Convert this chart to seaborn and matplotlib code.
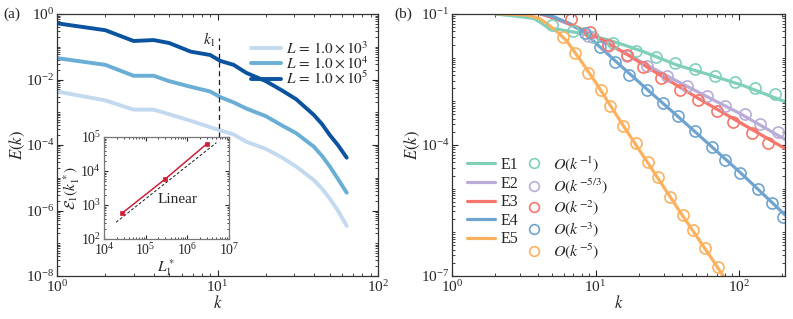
import numpy as np
import pandas as pd
import matplotlib
matplotlib.use("Agg")
import matplotlib.pyplot as plt
import seaborn as sns
from matplotlib.ticker import LogLocator, NullFormatter
from matplotlib.lines import Line2D

# ---- panel (a): spectra for three L ----
k_a = [1, 2, 3, 4, 5, 6.8, 9.0, 10.4, 12.6, 15.1, 20.0, 25.1, 30.9, 39.8, 44.7, 50.1, 56.2, 63.8]
E_L3 = [4.3e-3, 2.3e-3, 1.2e-3, 1.2e-3, 8.7e-4, 5.5e-4, 3.5e-4, 2.8e-4, 2.1e-4, 1.26e-4,
        7.6e-5, 4.2e-5, 2.2e-5, 8.5e-6, 4.7e-6, 2.3e-6, 1.0e-6, 3.4e-7]
E_L4 = [0.045, 0.028, 0.013, 0.013, 8.9e-3, 6.0e-3, 4.3e-3, 2.9e-3, 2.0e-3, 1.3e-3,
        7.6e-4, 4.0e-4, 2.3e-4, 8.9e-5, 4.7e-5, 2.2e-5, 9.3e-6, 3.5e-6]
E_L5 = [0.52, 0.32, 0.15, 0.16, 0.13, 0.071, 0.056, 0.037, 0.028, 0.016,
        8.9e-3, 4.7e-3, 2.5e-3, 8.3e-4, 4.4e-4, 2.0e-4, 1.0e-4, 4.1e-5]
labels_a = [r"$L\,=\,1.0\times10^3$", r"$L\,=\,1.0\times10^4$", r"$L\,=\,1.0\times10^5$"]
colors_a = ["#c2d9ef", "#6aaed6", "#0b539f"]
k1 = 10.2

# inset
L1_star = [2.7e4, 2.9e5, 2.9e6]
E1_star = [5.7e2, 5.7e3, 6.2e4]
lin_x = [1.95e4, 5.0e6]
lin_y = [3.1e2, 6.8e4]

# ---- panel (b): E1..E5 and power-law markers ----
k_E1 = [2.0, 2.82, 3.72, 4.17, 4.68, 5.62, 7.94, 12.0, 15.8, 21.5, 36.8, 63.1, 107, 209]
E_E1 = [0.1, 0.089, 0.079, 0.063, 0.048, 0.044, 0.036, 0.026, 0.0195, 0.0138, 6.8e-3, 4.0e-3, 2.3e-3, 9.8e-4]
k_E2 = [3.98, 5.01, 7.08, 10, 15.8, 31.6, 63.1, 100, 209]
E_E2 = [0.105, 0.083, 0.052, 0.0295, 0.0132, 3.8e-3, 1.17e-3, 5.4e-4, 1.35e-4]
k_E3 = [3.98, 5.01, 6.61, 10, 16.5, 28.8, 52.0, 91.2, 158, 209]
E_E3 = [0.105, 0.083, 0.060, 0.0316, 0.012, 3.8e-3, 1.17e-3, 4.0e-4, 1.41e-4, 8.3e-5]
k_E4 = [3.98, 5.01, 6.61, 8.51, 10.7, 13.7, 22.8, 37.8, 64.6, 102, 170, 209]
E_E4 = [0.105, 0.089, 0.060, 0.036, 0.0178, 8.5e-3, 1.9e-3, 4.4e-4, 9.1e-5, 2.34e-5, 4.8e-6, 2.5e-6]
k_E5 = [2.0, 3.31, 4.07, 4.79, 5.62, 6.31, 7.94, 10, 15.8, 25.1, 39.8, 63.1, 79.4]
E_E5 = [0.102, 0.095, 0.079, 0.054, 0.035, 0.024, 8.3e-3, 2.75e-3, 2.6e-4, 2.6e-5, 2.6e-6, 2.8e-7, 8.9e-8]

kc_1 = [5.01, 6.92, 9.55, 13.2, 19.1, 26.3, 35.9, 49.0, 67.6, 93.3, 129, 178]
Ec_1 = [0.056, 0.041, 0.0295, 0.0214, 0.0145, 0.0105, 7.4e-3, 5.5e-3, 3.9e-3, 2.8e-3, 2.0e-3, 1.5e-3]
kc_2 = [8.91, 12.2, 16.6, 22.8, 31.3, 43.3, 59.6, 79.4, 110, 140, 186]
Ec_2 = [0.031, 0.0182, 0.011, 6.3e-3, 3.8e-3, 2.2e-3, 1.35e-3, 7.9e-4, 5.2e-4, 3.1e-4, 1.95e-4]
kc_3 = [6.76, 9.12, 12.3, 16.5, 21.5, 28.8, 38.9, 52.0, 70.0, 91.2, 123, 158]
Ec_3 = [0.0759, 0.038, 0.020, 0.0115, 6.2e-3, 3.4e-3, 1.82e-3, 1.07e-3, 6.0e-4, 3.4e-4, 1.9e-4, 1.1e-4]
kc_4 = [8.51, 10.7, 13.7, 17.0, 22.8, 29.7, 37.8, 49.0, 64.6, 79.4, 102, 135, 170, 204]
Ec_4 = [0.0372, 0.0178, 8.1e-3, 3.98e-3, 1.82e-3, 9.0e-4, 4.5e-4, 2.04e-4, 9.1e-5, 4.6e-5, 2.34e-5, 9.8e-6, 4.8e-6, 2.3e-6]
kc_5 = [5.97, 7.16, 8.91, 10.9, 12.7, 15.6, 19.2, 23.3, 27.4, 33.0, 40.7, 47.9, 57.9, 71.8]
Ec_5 = [0.0302, 0.0126, 4.57e-3, 1.82e-3, 7.9e-4, 2.75e-4, 1.10e-4, 4.17e-5, 1.82e-5, 6.6e-6, 2.5e-6, 1.12e-6, 4.3e-7, 1.62e-7]

names_b = ["E1", "E2", "E3", "E4", "E5"]
laws_b = [r"$O(k^{-1})$", r"$O(k^{-5/3})$", r"$O(k^{-2})$", r"$O(k^{-3})$", r"$O(k^{-5})$"]
colors_b = ["#80d0b9", "#b9acd9", "#f6766b", "#6fa4d0", "#fdb15f"]

sns.set_theme(style="ticks")
plt.rcParams["font.family"] = ["Liberation Serif", "DejaVu Serif"]
plt.rcParams["mathtext.fontset"] = "stix"
plt.rcParams["axes.edgecolor"] = "#333333"
plt.rcParams["axes.linewidth"] = 0.9


def style_log_axis(ax, yticks, fs=11):
    ax.set_xscale("log")
    ax.set_yscale("log")
    ax.set_yticks(yticks)
    ax.yaxis.set_minor_locator(LogLocator(base=10, subs=np.arange(1, 10), numticks=100))
    ax.xaxis.set_minor_locator(LogLocator(base=10, subs=np.arange(2, 10), numticks=100))
    ax.yaxis.set_minor_formatter(NullFormatter())
    ax.xaxis.set_minor_formatter(NullFormatter())
    ax.tick_params(which="both", direction="in", top=True, right=True, labelsize=fs, pad=2)
    ax.tick_params(which="major", length=4, width=0.8)
    ax.tick_params(which="minor", length=2, width=0.6)


fig = plt.figure(figsize=(7.93, 3.19), dpi=100)
ax_a = fig.add_axes([0.0719, 0.1348, 0.4048, 0.8213])
ax_b = fig.add_axes([0.5700, 0.1348, 0.4199, 0.8213])

# ---- (a)
ax_a.set_xscale("log")
ax_a.set_yscale("log")
for E, c, lab in zip([E_L3, E_L4, E_L5], colors_a, labels_a):
    sns.lineplot(x=k_a, y=E, ax=ax_a, color=c, lw=2.8, label=lab, estimator=None, sort=False)
ax_a.vlines(k1, 1.7e-4, 0.19, colors="k", linestyles=(0, (4, 3)), lw=0.9)
ax_a.text(8.85, 0.16, r"$k_1$", ha="center", va="center", fontsize=11)
ax_a.set_xlim(1, 100)
ax_a.set_ylim(1e-8, 1)
style_log_axis(ax_a, [1e-8, 1e-6, 1e-4, 1e-2, 1e0])
ax_a.set_xticks([1, 10, 100])
ax_a.set_xlabel(r"$k$", fontsize=12, labelpad=0)
ax_a.set_ylabel(r"$E(k)$", fontsize=12, labelpad=-1)
ax_a.legend(loc="upper right", bbox_to_anchor=(1.0, 0.935), frameon=False, fontsize=11,
            handlelength=2.0, handletextpad=0.3, labelspacing=-0.1, borderaxespad=0.2)

# inset
ax_in = fig.add_axes([0.1311, 0.2508, 0.1576, 0.3197])
ax_in.set_xscale("log")
ax_in.set_yscale("log")
sns.lineplot(x=lin_x, y=lin_y, ax=ax_in, color="k", lw=0.7, ls=(0, (3, 2)), estimator=None)
sns.lineplot(x=L1_star, y=E1_star, ax=ax_in, color="#cc1f3a", lw=1.1, marker="s", ms=3.5,
             mec="#cc1f3a", mew=0.5, estimator=None)
ax_in.text(5.9e5, 1.5e3, "Linear", ha="center", va="center", fontsize=11)
ax_in.set_xlim(1e4, 1e7)
ax_in.set_ylim(1e2, 1e5)
style_log_axis(ax_in, [1e2, 1e3, 1e4, 1e5], fs=10)
ax_in.set_xticks([1e4, 1e5, 1e6, 1e7])
ax_in.tick_params(which="major", length=3)
ax_in.tick_params(which="minor", length=1.5)
for s in ax_in.spines.values():
    s.set_color("#777777")
ax_in.set_xlabel(r"$L_1^*$", fontsize=11, labelpad=0)
ax_in.set_ylabel(r"$\mathcal{E}_1(k_1^*)$", fontsize=11, labelpad=-1)

# ---- (b)
ax_b.set_xscale("log")
ax_b.set_yscale("log")
lines_k = [k_E1, k_E2, k_E3, k_E4, k_E5]
lines_E = [E_E1, E_E2, E_E3, E_E4, E_E5]
circ_k = [kc_1, kc_2, kc_3, kc_4, kc_5]
circ_E = [Ec_1, Ec_2, Ec_3, Ec_4, Ec_5]
for kk, EE, c in zip(lines_k, lines_E, colors_b):
    sns.lineplot(x=kk, y=EE, ax=ax_b, color=c, lw=2.3, estimator=None, sort=False)
for kk, EE, c in zip(circ_k, circ_E, colors_b):
    sns.lineplot(x=kk, y=EE, ax=ax_b, color=c, ls="", marker="o", ms=8, mfc="none",
                 mec=c, mew=1.2, estimator=None, sort=False)
ax_b.set_xlim(1, 209)
ax_b.set_ylim(1e-7, 1e-1)
style_log_axis(ax_b, [1e-7, 1e-4, 1e-1])
ax_b.set_xticks([1, 10, 100])
ax_b.set_xlabel(r"$k$", fontsize=12, labelpad=0)
ax_b.set_ylabel(r"$E(k)$", fontsize=12, labelpad=-1)

handles = [Line2D([], [], color=c, lw=2.3) for c in colors_b]
handles += [Line2D([], [], color=c, ls="", marker="o", ms=7, mfc="none", mec=c, mew=1.2)
            for c in colors_b]
ax_b.legend(handles, names_b + laws_b, ncol=2, loc="upper left", bbox_to_anchor=(0.025, 0.49),
            frameon=False, fontsize=11.5, handlelength=1.8, handletextpad=0.3,
            labelspacing=0.16, columnspacing=0.1, borderaxespad=0.0)

fig.text(0.004, 0.955, "(a)", fontsize=11, va="center")
fig.text(0.497, 0.955, "(b)", fontsize=11, va="center")

fig.savefig("out.png", dpi=100)
